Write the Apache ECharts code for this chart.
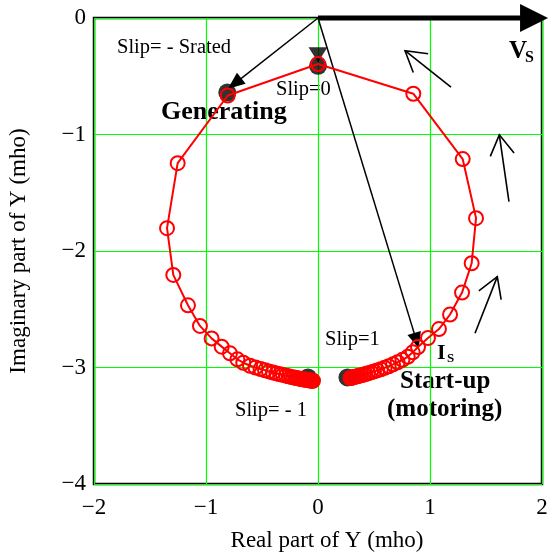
<!DOCTYPE html>
<html><head><meta charset="utf-8">
<script src="https://cdn.jsdelivr.net/npm/echarts@6/dist/echarts.min.js"></script>
<style>html,body{margin:0;padding:0;background:#fff}#c{width:556px;height:560px}</style>
</head><body><div id="c"></div>
<script>
// ---- data ----
const xTicks = [-2, -1, 0, 1, 2];
const yTicks = [0, -1, -2, -3, -4];
// admittance locus, traced from slip = -1 (left end) over slip = 0 (top) to slip = 1 (right end)
const locusRe = [
  -0.045,-0.050,-0.057,-0.066,-0.076,-0.087,-0.098,-0.110,-0.122,-0.136,-0.150,-0.165,-0.183,-0.201,-0.219,
  -0.241,-0.263,-0.286,-0.313,-0.339,-0.371,-0.402,-0.438,-0.473,-0.513,-0.558,-0.607,-0.667,-0.720,-0.786,
  -0.860,-0.950,-1.054,-1.161,-1.292,-1.348,-1.253,-0.806,0.000,0.851,1.292,1.411,1.372,1.286,1.179,1.080,
  0.982,0.893,0.846,0.801,0.754,0.711,0.670,0.631,0.595,0.561,0.529,0.500,0.473,0.448,0.425,0.404,0.384,
  0.366,0.350,0.335,0.321,0.310,0.299,0.290
];
const locusIm = [
  -3.114,-3.113,-3.113,-3.112,-3.111,-3.109,-3.107,-3.106,-3.104,-3.101,-3.099,-3.096,-3.093,-3.089,-3.085,
  -3.081,-3.076,-3.070,-3.064,-3.058,-3.051,-3.043,-3.034,-3.024,-3.013,-3.000,-2.985,-2.959,-2.930,-2.878,
  -2.821,-2.750,-2.643,-2.466,-2.205,-1.804,-1.246,-0.665,-0.395,-0.650,-1.211,-1.718,-2.105,-2.357,-2.545,-2.670,
  -2.747,-2.824,-2.870,-2.908,-2.934,-2.955,-2.973,-2.989,-3.003,-3.015,-3.025,-3.034,-3.042,-3.049,-3.056,-3.062,-3.067,
  -3.071,-3.076,-3.079,-3.082,-3.085,-3.088,-3.090
];
// key operating points (black dots): generating, slip=0, slip=-1, slip=1
const keyRe = [-0.81, 0.0, -0.09, 0.263];
const keyIm = [-0.64, -0.41, -3.085, -3.085];
const slipZeroMark = [0.0, -0.316];
// phasors drawn from origin: Vs, Is, generating current
const vsTip = [2.054, 0];
const isTip = [0.90, -2.835];
const genTip = [-0.804, -0.608];
// rotation direction arrows: tail x, tail y, tip x, tip y
const dirTailRe = [1.1875, 1.705, 1.402];
const dirTailIm = [-0.593, -1.576, -2.706];
const dirTipRe = [0.777, 1.619, 1.601];
const dirTipIm = [-0.281, -1.003, -2.220];

const FONT = '"Liberation Serif", "Times New Roman", serif';
const minus = v => (v < 0 ? '\u2212' + Math.abs(v) : String(v));

const locus = locusRe.map((r, i) => [r, locusIm[i]]);
const keys = keyRe.map((r, i) => [r, keyIm[i]]);

// arrow styles: [head length, head half-width, line width, open head]
const ARROW_STYLES = [
  [28, 14, 5, false],   // Vs
  [16, 7, 1.5, false],  // Is
  [17, 7, 1.5, false],  // generating current
  [20, 12, 1.6, true]   // direction arrows
];
const arrowData = [
  [0, 0, vsTip[0], vsTip[1], 0],
  [0, 0, isTip[0], isTip[1], 1],
  [0, 0, genTip[0], genTip[1], 2]
].concat(dirTailRe.map((r, i) => [r, dirTailIm[i], dirTipRe[i], dirTipIm[i], 3]));

function renderArrow(params, api) {
  const p0 = api.coord([api.value(0), api.value(1)]);
  const p1 = api.coord([api.value(2), api.value(3)]);
  const st = ARROW_STYLES[api.value(4)];
  const dx = p1[0] - p0[0], dy = p1[1] - p0[1];
  const L = Math.hypot(dx, dy), ux = dx / L, uy = dy / L, nx = -uy, ny = ux;
  const len = st[0], half = st[1];
  const base = [p1[0] - ux * len, p1[1] - uy * len];
  const a = [base[0] + nx * half, base[1] + ny * half];
  const b = [base[0] - nx * half, base[1] - ny * half];
  const shaftEnd = st[3] ? p1 : [p1[0] - ux * len * 0.5, p1[1] - uy * len * 0.5];
  const children = [
    {type: 'line', shape: {x1: p0[0], y1: p0[1], x2: shaftEnd[0], y2: shaftEnd[1]},
     style: {stroke: '#000', lineWidth: st[2]}}
  ];
  if (st[3]) {
    children.push({type: 'polyline', shape: {points: [a, p1, b]},
      style: {stroke: '#000', lineWidth: st[2], fill: null, lineJoin: 'miter'}});
  } else {
    children.push({type: 'polygon', shape: {points: [a, p1, b]}, style: {fill: '#000'}});
  }
  return {type: 'group', children};
}

const chart = echarts.init(document.getElementById('c'), null, {renderer: 'canvas'});
chart.setOption({
  animation: false,
  backgroundColor: '#fff',
  grid: {left: 94, right: 14, top: 18, bottom: 76, show: true, borderColor: '#000', borderWidth: 2.5, backgroundColor: 'transparent'},
  xAxis: {
    type: 'value', min: xTicks[0], max: xTicks[xTicks.length - 1], interval: 1,
    axisLine: {show: false}, axisTick: {show: false},
    splitLine: {show: true, lineStyle: {color: '#00ff00', width: 1.2}},
    axisLabel: {formatter: minus, color: '#000', fontFamily: FONT, fontSize: 23, margin: 12}
  },
  yAxis: {
    type: 'value', min: yTicks[yTicks.length - 1], max: yTicks[0], interval: 1,
    axisLine: {show: false}, axisTick: {show: false},
    splitLine: {show: true, lineStyle: {color: '#00ff00', width: 1.2}},
    axisLabel: {formatter: minus, color: '#000', fontFamily: FONT, fontSize: 23, margin: 8}
  },
  series: [
    {
      type: 'scatter', data: keys, symbol: 'circle', symbolSize: 18, z: 2,
      itemStyle: {color: '#000'}, silent: true
    },
    {
      type: 'scatter', data: [slipZeroMark], symbol: 'triangle', symbolSize: [19, 15], symbolRotate: 180, z: 2,
      itemStyle: {color: '#000'}, silent: true
    },
    {
      type: 'custom', data: arrowData, renderItem: renderArrow, z: 3, clip: false, silent: true,
      encode: {x: [0, 2], y: [1, 3]}
    },
    {
      type: 'line', data: locus, z: 4, silent: true,
      symbol: 'circle', symbolSize: 14, showAllSymbol: true,
      lineStyle: {color: '#ff0000', width: 2},
      itemStyle: {color: 'rgba(255,255,255,0)', borderColor: '#ff0000', borderWidth: 2}
    }
  ],
  graphic: [
    {type: 'text', x: 117, y: 48, style: {text: 'Slip= - Srated', font: `20.5px ${FONT}`, fill: '#000', verticalAlign: 'middle'}},
    {type: 'text', x: 276, y: 90, style: {text: 'Slip=0', font: `20.5px ${FONT}`, fill: '#000', verticalAlign: 'middle'}},
    {type: 'text', x: 161, y: 112, style: {text: 'Generating', font: `bold 26px ${FONT}`, fill: '#000', verticalAlign: 'middle'}},
    {type: 'text', x: 509, y: 52, style: {text: 'V', font: `bold 25px ${FONT}`, fill: '#000', verticalAlign: 'middle'}},
    {type: 'text', x: 525, y: 58, style: {text: 'S', font: `bold 16px ${FONT}`, fill: '#000', verticalAlign: 'middle'}},
    {type: 'text', x: 325, y: 340, style: {text: 'Slip=1', font: `20.5px ${FONT}`, fill: '#000', verticalAlign: 'middle'}},
    {type: 'text', x: 437, y: 353, style: {text: 'I', font: `bold 22px ${FONT}`, fill: '#000', verticalAlign: 'middle'}},
    {type: 'text', x: 447, y: 359, style: {text: 'S', font: `bold 13px ${FONT}`, fill: '#000', verticalAlign: 'middle'}},
    {type: 'text', x: 400, y: 382, style: {text: 'Start-up', font: `bold 25px ${FONT}`, fill: '#000', verticalAlign: 'middle'}},
    {type: 'text', x: 387, y: 410, style: {text: '(motoring)', font: `bold 25px ${FONT}`, fill: '#000', verticalAlign: 'middle'}},
    {type: 'text', x: 235, y: 411, style: {text: 'Slip= - 1', font: `20.5px ${FONT}`, fill: '#000', verticalAlign: 'middle'}},
    {type: 'text', x: 327, y: 541, style: {text: 'Real part of Y (mho)', font: `23px ${FONT}`, fill: '#000', align: 'center', verticalAlign: 'middle'}},
    {type: 'text', x: 19, y: 251, rotation: Math.PI / 2, style: {text: 'Imaginary part of Y (mho)', font: `23px ${FONT}`, fill: '#000', align: 'center', verticalAlign: 'middle'}}
  ]
});
</script>
</body></html>
